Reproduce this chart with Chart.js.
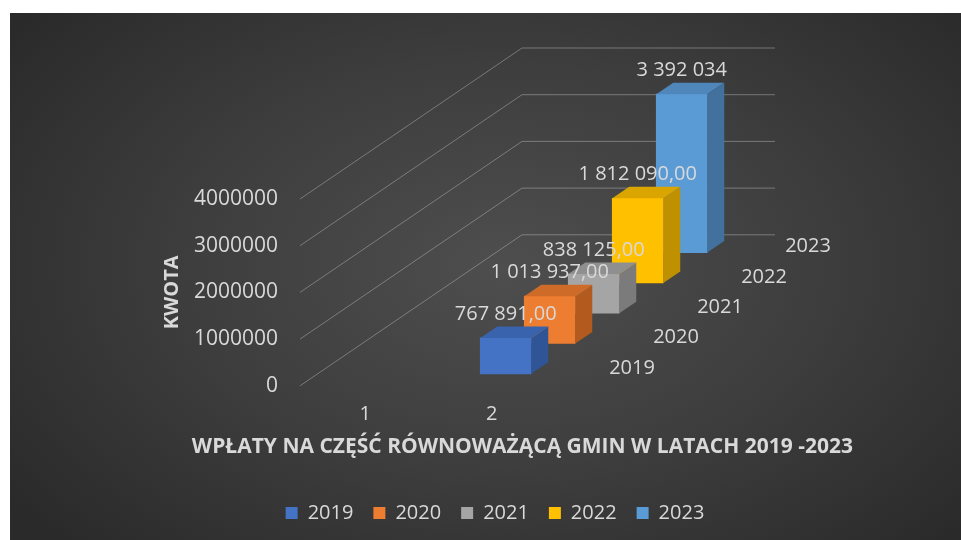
<!DOCTYPE html>
<html lang="pl">
<head>
<meta charset="utf-8">
<title>Wpłaty na część równoważącą gmin 2019-2023</title>
<script src="https://cdn.jsdelivr.net/npm/chart.js@4.4.1/dist/chart.umd.min.js"></script>
<style>
  html, body { margin: 0; padding: 0; background: #fff; }
  #bg {
    position: absolute; left: 10px; top: 13px; width: 951px; height: 527px;
    background: radial-gradient(ellipse 65% 75% at 52% 48%, #4e4e4e 0%, #3e3e3e 50%, #2a2a2a 100%);
  }
  #wrap { position: absolute; left: 0; top: 0; width: 961px; height: 540px; }
</style>
</head>
<body>
<div id="bg"></div>
<div id="wrap"><canvas id="wplatyChart"></canvas></div>
<script>
const categories = ['1', '2'];
const years = ['2019', '2020', '2021', '2022', '2023'];
const amounts = [767891, 1013937, 838125, 1812090, 3392034];
const labelDecimals = [2, 2, 2, 2, 0];
const yTicks = [0, 1000000, 2000000, 3000000, 4000000];

const frontColors = ['#4472c4', '#ed7d31', '#a5a5a5', '#ffc000', '#5b9bd5'];
const topColors = ['#3a63ad', '#cf6b29', '#8f8f8f', '#dba500', '#4f87bb'];
const sideColors = ['#2f5597', '#b35a1e', '#7b7b7b', '#bf9000', '#41719c'];

const TEXT = '#d9d9d9';
// 3D look: each series sits one step further back
const FRONT = { x: 14, y: -12 };
const STEP = { x: 44, y: -30.3 };
const SIDE = { x: 17, y: -11.5 };
const WALL = { x: 220, y: -151 };

function fmt(v, dec) {
  const s = String(v).replace(/\B(?=(\d{3})+(?!\d))/g, ' ');
  return dec ? s + ',' + '0'.repeat(dec) : s;
}

function shift(i) {
  return { x: FRONT.x + STEP.x * i, y: FRONT.y + STEP.y * i };
}

const depth3d = {
  id: 'depth3d',
  beforeDatasetsDraw(chart) {
    const { ctx, chartArea } = chart;
    const y = chart.scales.y;
    ctx.save();
    ctx.strokeStyle = 'rgba(200,200,200,0.42)';
    ctx.lineWidth = 1;
    y.ticks.forEach(t => {
      const py = y.getPixelForValue(t.value);
      ctx.beginPath();
      ctx.moveTo(chartArea.left - 2, py);
      ctx.lineTo(chartArea.left + WALL.x, py + WALL.y);
      ctx.lineTo(chartArea.right + WALL.x, py + WALL.y);
      ctx.stroke();
    });
    // series names along the depth axis
    ctx.fillStyle = TEXT;
    ctx.font = "20px 'Open Sans'";
    ctx.textAlign = 'center';
    ctx.textBaseline = 'middle';
    chart.data.datasets.forEach((ds, i) => {
      ctx.fillText(ds.label, chartArea.right + 77 + STEP.x * i, chartArea.bottom - 18 + STEP.y * i);
    });
    ctx.restore();
  },
  beforeDatasetDraw(chart, args) {
    const o = shift(args.index);
    chart.ctx.save();
    chart.ctx.translate(o.x, o.y);
  },
  afterDatasetDraw(chart, args) {
    const ctx = chart.ctx;
    const i = args.index;
    const values = chart.data.datasets[i].data;
    args.meta.data.forEach((el, j) => {
      if (values[j] == null) return;
      const p = el.getProps(['x', 'y', 'base', 'width'], true);
      const l = p.x - p.width / 2, r = p.x + p.width / 2;
      ctx.fillStyle = topColors[i];
      ctx.beginPath();
      ctx.moveTo(l, p.y);
      ctx.lineTo(l + SIDE.x, p.y + SIDE.y);
      ctx.lineTo(r + SIDE.x, p.y + SIDE.y);
      ctx.lineTo(r, p.y);
      ctx.closePath();
      ctx.fill();
      ctx.fillStyle = sideColors[i];
      ctx.beginPath();
      ctx.moveTo(r, p.y);
      ctx.lineTo(r + SIDE.x, p.y + SIDE.y);
      ctx.lineTo(r + SIDE.x, p.base + SIDE.y);
      ctx.lineTo(r, p.base);
      ctx.closePath();
      ctx.fill();
    });
    ctx.restore();
  },
  afterDatasetsDraw(chart) {
    const ctx = chart.ctx;
    ctx.save();
    ctx.fillStyle = TEXT;
    ctx.font = "20px 'Open Sans'";
    ctx.textAlign = 'center';
    ctx.textBaseline = 'middle';
    chart.data.datasets.forEach((ds, i) => {
      const o = shift(i);
      chart.getDatasetMeta(i).data.forEach((el, j) => {
        const v = ds.data[j];
        if (v == null) return;
        const p = el.getProps(['x', 'y'], true);
        ctx.fillText(fmt(v, labelDecimals[i]), p.x + o.x, p.y + o.y - 24);
      });
    });
    ctx.restore();
  }
};

Chart.defaults.font.family = "'Open Sans', sans-serif";
Chart.defaults.font.size = 20;
Chart.defaults.color = TEXT;

const ctx = document.getElementById('wplatyChart').getContext('2d');

new Chart(ctx, {
  type: 'bar',
  data: {
    labels: categories,
    datasets: years.map((yr, i) => ({
      label: yr,
      data: [null, amounts[i]],
      backgroundColor: frontColors[i],
      borderWidth: 0,
      barThickness: 51,
      grouped: false,
      clip: false
    }))
  },
  options: {
    responsive: true,
    maintainAspectRatio: false,
    animation: false,
    layout: { padding: { left: 137, right: 108, top: 199, bottom: 7 } },
    scales: {
      x: {
        grid: { display: false, drawTicks: false },
        border: { display: false },
        ticks: { padding: 16 },
        afterFit(s) { s.height = 44; }
      },
      y: {
        min: 0,
        max: 4000000,
        grid: { display: false, drawTicks: false },
        border: { display: false },
        afterBuildTicks(s) { s.ticks = yTicks.map(v => ({ value: v })); },
        ticks: { padding: 24, font: { size: 21 }, callback: v => String(v) },
        title: {
          display: true,
          text: 'KWOTA',
          font: { weight: 'bold', size: 20 },
          padding: { top: 23 }
        },
        afterFit(s) { s.width = 165; }
      },
      yR: {
        position: 'right',
        grid: { display: false },
        border: { display: false },
        ticks: { display: false },
        afterFit(s) { s.width = 298; }
      }
    },
    plugins: {
      legend: {
        position: 'bottom',
        labels: { boxWidth: 12, boxHeight: 12, padding: 20 }
      },
      title: {
        display: true,
        position: 'bottom',
        align: 'end',
        weight: 500,
        text: 'WPŁATY NA CZĘŚĆ RÓWNOWAŻĄCĄ GMIN W LATACH 2019 -2023',
        color: TEXT,
        font: { weight: 'bold', size: 21 },
        padding: { top: 5, bottom: 23 }
      },
      tooltip: { enabled: false }
    }
  },
  plugins: [depth3d]
});
</script>
</body>
</html>
